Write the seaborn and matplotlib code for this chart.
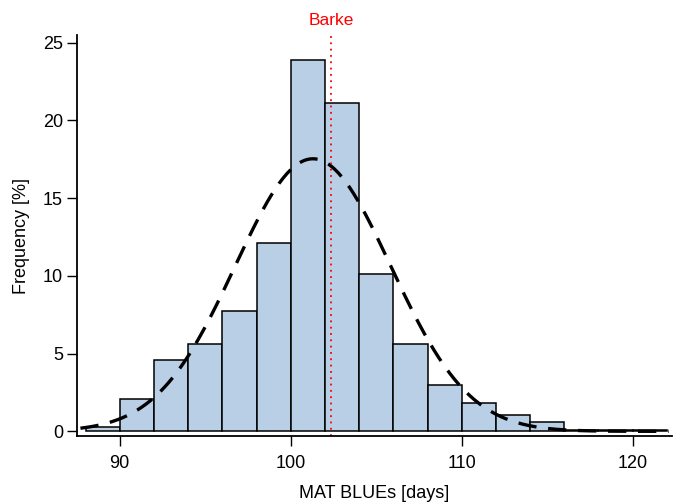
import matplotlib
matplotlib.use("Agg")
import matplotlib.pyplot as plt
import seaborn as sns
import numpy as np
import pandas as pd

# histogram bins (days) and bar heights (% of lines)
bin_edges = [88, 90, 92, 94, 96, 98, 100, 102, 104, 106, 108, 110, 112, 114, 116, 118, 120, 122]
freq_pct = [0.3, 2.05, 4.6, 5.6, 7.75, 12.1, 23.9, 21.1, 10.15, 5.65, 2.95,
            1.85, 1.05, 0.6, 0.08, 0.08, 0.08]

# fitted normal curve
fit_mean = 101.3
fit_sd = 4.55
barke_mat = 102.35

x_ticks = [90, 100, 110, 120]
y_ticks = [0, 5, 10, 15, 20, 25]

sns.set_theme(style="ticks")
plt.rcParams["font.family"] = ["Liberation Sans", "DejaVu Sans"]
plt.rcParams.update({"text.color": "black", "axes.labelcolor": "black",
                     "xtick.color": "black", "ytick.color": "black"})

centers = [(a + b) / 2 for a, b in zip(bin_edges[:-1], bin_edges[1:])]
df = pd.DataFrame({"MAT": centers, "pct": freq_pct})

fig = plt.figure(figsize=(6.73, 5.03), dpi=100)
ax = fig.add_axes([77 / 673, 1 - 436 / 503, (672 - 77) / 673, (436 - 35) / 503])

sns.histplot(data=df, x="MAT", weights="pct", bins=bin_edges, ax=ax,
             color="#b9cfe6", alpha=1, edgecolor="black", linewidth=1.1)

# normal density scaled to % per bin width
bw = bin_edges[1] - bin_edges[0]
xs = np.linspace(87.7, 122.1, 300)
ys = 100 * bw * np.exp(-0.5 * ((xs - fit_mean) / fit_sd) ** 2) / (fit_sd * np.sqrt(2 * np.pi))
sns.lineplot(x=xs, y=ys, ax=ax, color="black", lw=2.4, linestyle=(0, (5.5, 3.5)))

ax.axvline(barke_mat, color="red", lw=1.3, linestyle=(0, (1, 2.5)), ymin=0, ymax=1)
ax.text(barke_mat, 25.95, "Barke", color="red", fontsize=12.5, ha="center", va="bottom")

ax.set_xlim(87.5, 122.3)
ax.set_ylim(-0.3, 25.5)
ax.set_xticks(x_ticks)
ax.set_yticks(y_ticks)
ax.tick_params(labelsize=13, length=7, width=1, colors="black")
ax.tick_params(axis="x", pad=7)
ax.tick_params(axis="y", pad=3)
ax.set_xlabel("MAT BLUEs [days]", fontsize=13, labelpad=9)
ax.set_ylabel("Frequency [%]", fontsize=13, labelpad=9)
for s in ["left", "bottom"]:
    ax.spines[s].set_linewidth(1.3)
    ax.spines[s].set_color("black")
sns.despine(ax=ax)

fig.savefig("out.png", dpi=100)
